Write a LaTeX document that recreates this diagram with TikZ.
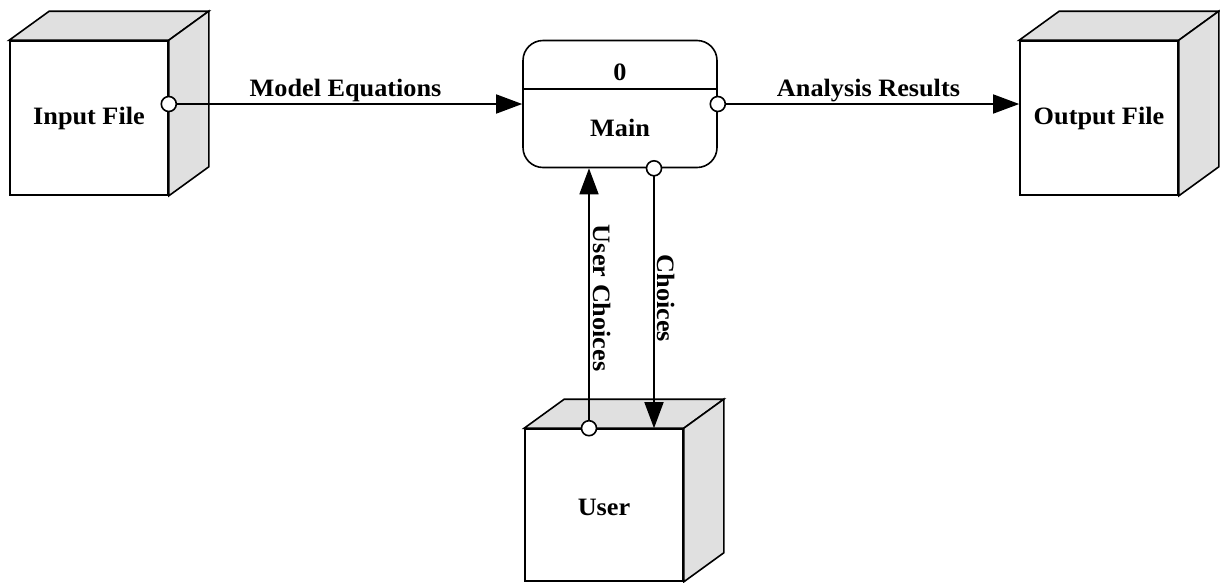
\documentclass[tikz,border=0pt]{standalone}
\usepackage{fontspec}
\setmainfont{Liberation Serif}[FakeStretch=1.05]
\usetikzlibrary{arrows.meta,calc}
\definecolor{sidegray}{HTML}{E0E0E0}
\begin{document}
\begin{tikzpicture}[x=1pt,y=-1pt,
  lw/.style={line width=1.6pt},
  txt/.style={font=\fontsize{25}{29}\selectfont\bfseries},
  face/.style={lw, draw, fill=white, minimum width=158pt, minimum height=154pt, inner sep=0pt, txt},
  side/.style={lw, draw, fill=sidegray, line join=miter},
  flow/.style={lw, -{Triangle[length=26pt,width=19pt]}},
  port/.style={lw, draw, fill=white},
  lab/.style={txt, inner sep=1pt}
]
\useasboundingbox (0,0) rectangle (1220,582);
% cubes
\newcommand{\cubeback}[1]{%
  \draw[side] (#1.north west) -- ++(40,-29) -- ($(#1.north east)+(40,-29)$) -- (#1.north east) -- cycle;
  \draw[side] (#1.north east) -- ++(40,-29) -- ($(#1.south east)+(40,-29)$) -- (#1.south east) -- cycle;}
\node[face] (input) at (89,118) {Input File};
\cubeback{input}
\node[face] (output) at (1099,118) {Output File};
\cubeback{output}
\node[face, minimum height=152pt] (user) at (604,505) {};
\cubeback{user}
\node[txt] (username) at (604,507) {User};
% main process
\node[lw, draw, fill=white, rounded corners=20pt, minimum width=194pt, minimum height=127pt, inner sep=0pt] (main) at (620,104) {};
\draw[lw] (main.west |- 0,89) -- (main.east |- 0,89);
\node[txt] (mainnum) at (620,72) {0};
\node[txt] (mainname) at (620,128) {Main};
% flows
\draw[flow] (input.east |- main.west) -- node[lab, above] (l1) {Model Equations} (main.west);
\draw[port] (input.east |- main.west) circle (7.5);
\draw[flow] (main.east) -- node[lab, above] (l2) {Analysis Results} (output.west |- main.east);
\draw[port] (main.east) circle (7.5);
\draw[flow] ([xshift=-15pt]user.north) -- node[lab, midway, rotate=-90, anchor=south, inner sep=3pt] (l3) {User Choices} ([xshift=-15pt]user.north |- main.south);
\draw[port] ([xshift=-15pt]user.north) circle (7.5);
\draw[flow] ([xshift=50pt]user.north |- main.south) -- node[lab, midway, rotate=-90, anchor=south, inner sep=2pt] (l4) {Choices} ([xshift=50pt]user.north);
\draw[port] ([xshift=50pt]user.north |- main.south) circle (7.5);
\end{tikzpicture}
\end{document}
